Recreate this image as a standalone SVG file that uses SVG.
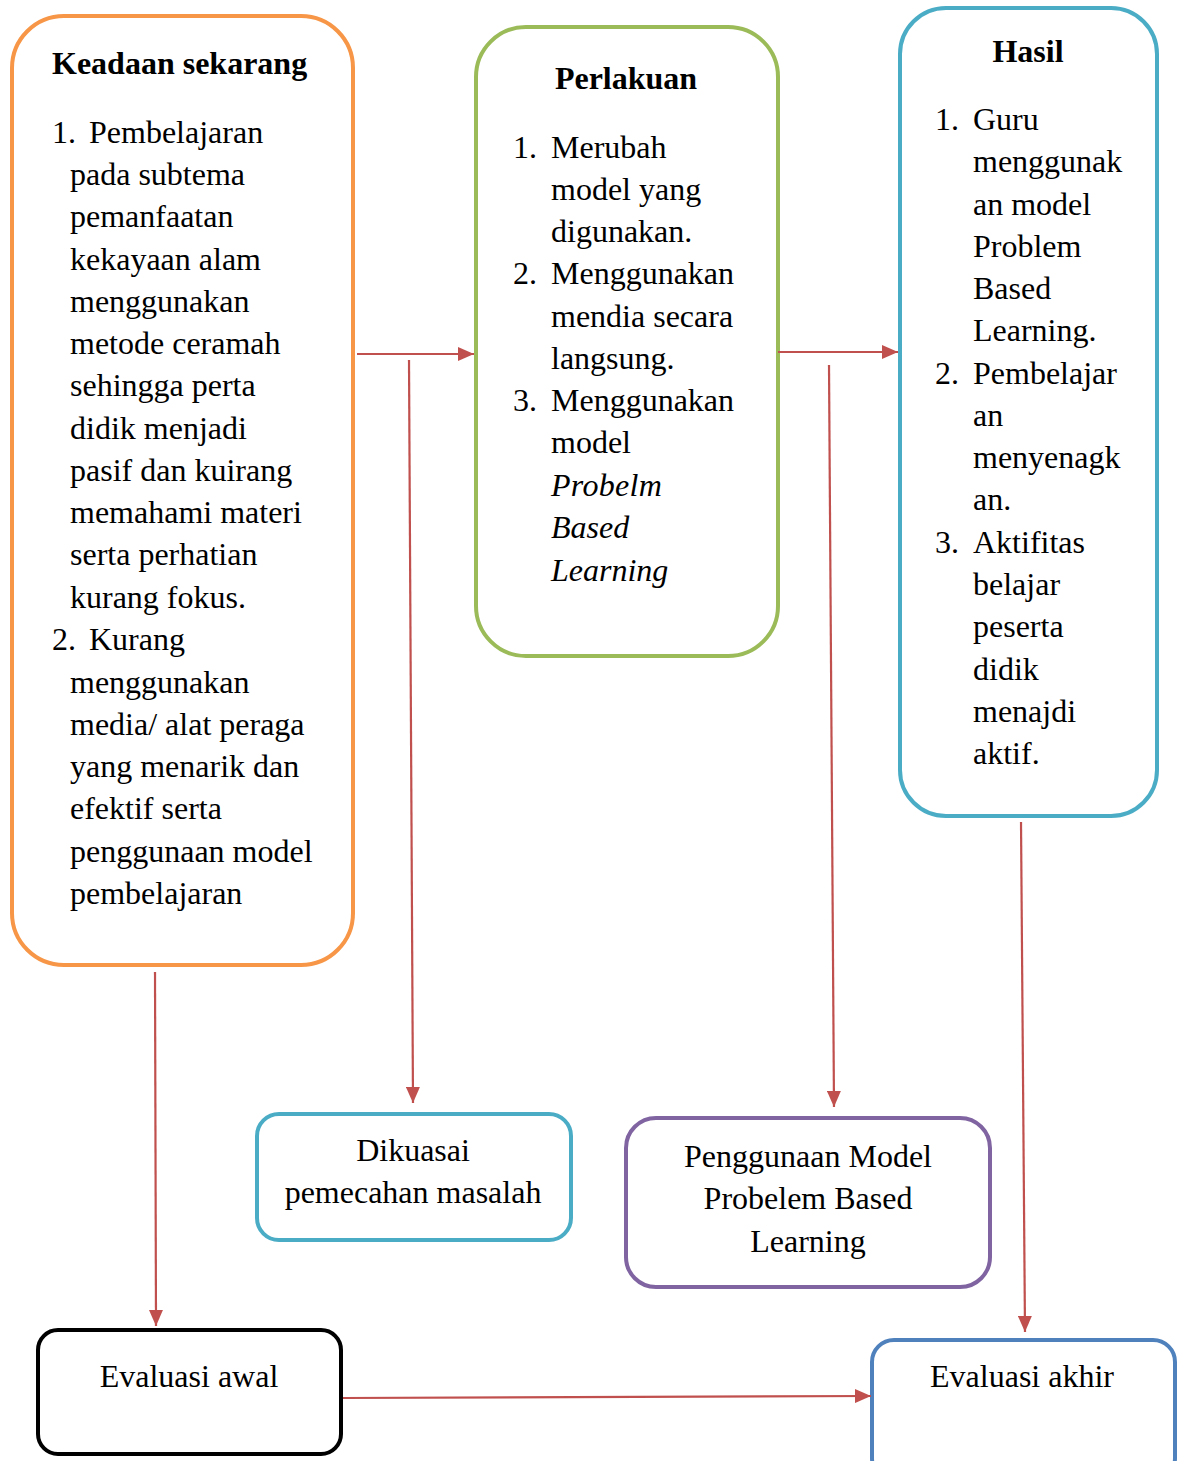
<svg xmlns="http://www.w3.org/2000/svg" width="1181" height="1461" viewBox="0 0 1181 1461">
<style>
.t{font-family:"Liberation Serif","Times New Roman",serif;font-size:32px;fill:#000}
.b{font-weight:bold}
.i{font-style:italic}
.c{text-anchor:middle}
.box{fill:#fff;stroke-width:4}
.con{stroke:#C0504D;stroke-width:2.2;fill:none;marker-end:url(#ah)}
</style>
<defs>
<marker id="ah" markerUnits="userSpaceOnUse" markerWidth="18" markerHeight="14" refX="16" refY="7" orient="auto">
<path d="M0,0 L16,7 L0,14 Z" fill="#C0504D"/>
</marker>
</defs>
<rect width="1181" height="1461" fill="#fff"/>

<g id="keadaan">
<rect class="box" x="12" y="16" width="341" height="949" rx="52" stroke="#F79646"/>
<text class="t b" x="52" y="74">Keadaan sekarang</text>
<text class="t" x="52" y="143">1.</text>
<text class="t" x="89" y="143">Pembelajaran</text>
<text class="t" x="70" y="185">pada subtema</text>
<text class="t" x="70" y="227">pemanfaatan</text>
<text class="t" x="70" y="270">kekayaan alam</text>
<text class="t" x="70" y="312">menggunakan</text>
<text class="t" x="70" y="354">metode ceramah</text>
<text class="t" x="70" y="396">sehingga perta</text>
<text class="t" x="70" y="439">didik menjadi</text>
<text class="t" x="70" y="481">pasif dan kuirang</text>
<text class="t" x="70" y="523">memahami materi</text>
<text class="t" x="70" y="565">serta perhatian</text>
<text class="t" x="70" y="608">kurang fokus.</text>
<text class="t" x="52" y="650">2.</text>
<text class="t" x="89" y="650">Kurang</text>
<text class="t" x="70" y="693">menggunakan</text>
<text class="t" x="70" y="735">media/ alat peraga</text>
<text class="t" x="70" y="777">yang menarik dan</text>
<text class="t" x="70" y="819">efektif serta</text>
<text class="t" x="70" y="862">penggunaan model</text>
<text class="t" x="70" y="904">pembelajaran</text>
</g>

<g id="perlakuan">
<rect class="box" x="476" y="27" width="302" height="629" rx="50" stroke="#9BBB59"/>
<text class="t b c" x="626" y="89">Perlakuan</text>
<text class="t" x="513" y="158">1.</text>
<text class="t" x="551" y="158">Merubah</text>
<text class="t" x="551" y="200">model yang</text>
<text class="t" x="551" y="242">digunakan.</text>
<text class="t" x="513" y="284">2.</text>
<text class="t" x="551" y="284">Menggunakan</text>
<text class="t" x="551" y="327">mendia secara</text>
<text class="t" x="551" y="369">langsung.</text>
<text class="t" x="513" y="411">3.</text>
<text class="t" x="551" y="411">Menggunakan</text>
<text class="t" x="551" y="453">model</text>
<text class="t i" x="551" y="496" letter-spacing="0.3">Probelm</text>
<text class="t i" x="551" y="538">Based</text>
<text class="t i" x="551" y="581">Learning</text>
</g>

<g id="hasil">
<rect class="box" x="900" y="8" width="257" height="808" rx="46" stroke="#4BACC6"/>
<text class="t b c" x="1028" y="62">Hasil</text>
<text class="t" x="935" y="130">1.</text>
<text class="t" x="973" y="130">Guru</text>
<text class="t" x="973" y="172">menggunak</text>
<text class="t" x="973" y="215">an model</text>
<text class="t" x="973" y="257">Problem</text>
<text class="t" x="973" y="299">Based</text>
<text class="t" x="973" y="341">Learning.</text>
<text class="t" x="935" y="384">2.</text>
<text class="t" x="973" y="384">Pembelajar</text>
<text class="t" x="973" y="426">an</text>
<text class="t" x="973" y="468">menyenagk</text>
<text class="t" x="973" y="510">an.</text>
<text class="t" x="935" y="553">3.</text>
<text class="t" x="973" y="553">Aktifitas</text>
<text class="t" x="973" y="595">belajar</text>
<text class="t" x="973" y="637">peserta</text>
<text class="t" x="973" y="680">didik</text>
<text class="t" x="973" y="722">menajdi</text>
<text class="t" x="973" y="764">aktif.</text>
</g>

<g id="dikuasai">
<rect class="box" x="257" y="1114" width="314" height="126" rx="22" stroke="#4BACC6"/>
<text class="t c" x="413" y="1161">Dikuasai</text>
<text class="t c" x="413" y="1203">pemecahan masalah</text>
</g>

<g id="penggunaan">
<rect class="box" x="626" y="1118" width="364" height="169" rx="30" stroke="#8064A2"/>
<text class="t c" x="808" y="1167">Penggunaan Model</text>
<text class="t c" x="808" y="1209">Probelem Based</text>
<text class="t c" x="808" y="1252">Learning</text>
</g>

<g id="evaluasi-awal">
<rect class="box" x="38" y="1330" width="303" height="124" rx="20" stroke="#000" stroke-width="5"/>
<text class="t c" x="189" y="1387">Evaluasi awal</text>
</g>

<g id="evaluasi-akhir">
<rect class="box" x="872" y="1340" width="303" height="140" rx="22" stroke="#4F81BD"/>
<text class="t c" x="1022" y="1387">Evaluasi akhir</text>
</g>

<g id="connectors">
<path class="con" d="M357,354 L474,354"/>
<path class="con" d="M409,360 L413,1103"/>
<path class="con" d="M778,352 L898,352"/>
<path class="con" d="M829,365 L834,1107"/>
<path class="con" d="M1021,822 L1025,1332"/>
<path class="con" d="M155,972 L156,1326"/>
<path class="con" d="M343,1398 L871,1396"/>
</g>
</svg>
